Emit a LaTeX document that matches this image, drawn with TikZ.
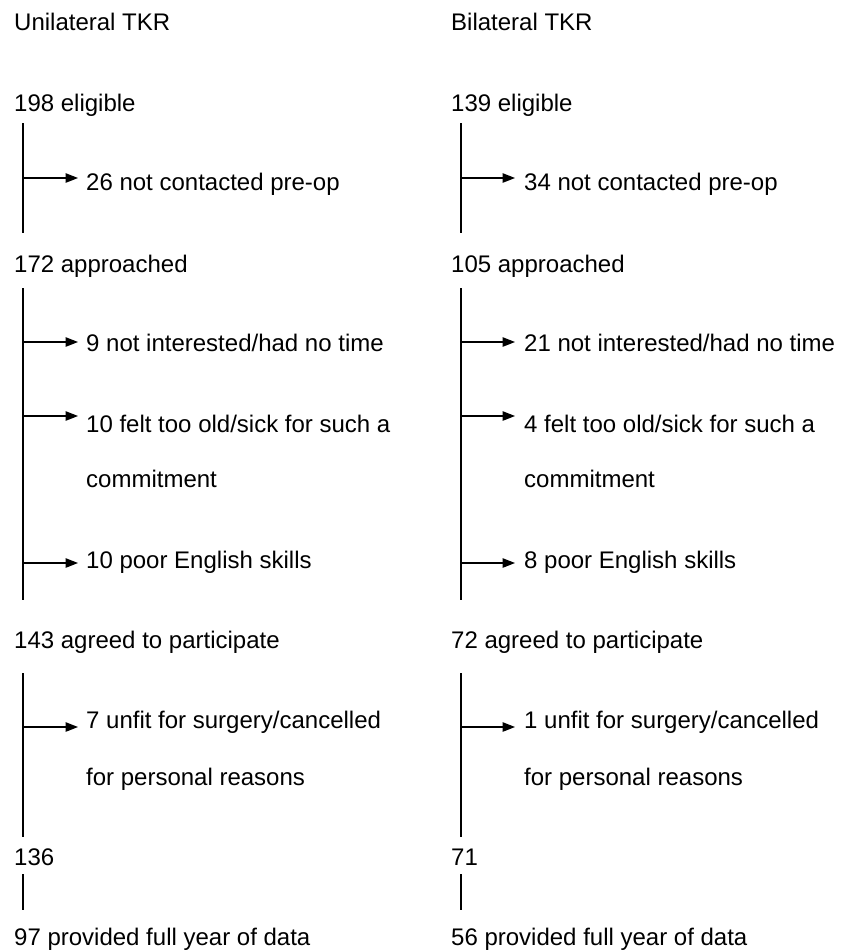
\documentclass[tikz,border=0pt]{standalone}
\usepackage{fontspec}
\setmainfont{Liberation Sans}
\usetikzlibrary{arrows.meta}
\tikzset{
  lbl/.style={anchor=base west,inner sep=0pt,font=\fontsize{24pt}{28pt}\selectfont},
  vline/.style={line width=1.3pt},
  exarrow/.style={line width=1.3pt,-{Triangle[length=12.5pt,width=9.5pt]}}
}
\begin{document}
\begin{tikzpicture}[x=1pt,y=-1pt]
\useasboundingbox (0,0) rectangle (842,951);
% ---------- left column ----------
\begin{scope}
\node[lbl] (Lh) at (14,30) {Unilateral TKR};
\node[lbl] (L1) at (14,111) {198 eligible};
\node[lbl] (Le1) at (86,190) {26 not contacted pre-op};
\node[lbl] (L2) at (14,272) {172 approached};
\node[lbl] (Le2) at (86,351) {9 not interested/had no time};
\node[lbl] (Le3) at (86,432) {10 felt too old/sick for such a};
\node[lbl] (Le3b) at (86,487) {commitment};
\node[lbl] (Le4) at (86,568) {10 poor English skills};
\node[lbl] (L3) at (14,648) {143 agreed to participate};
\node[lbl] (Le5) at (86,728) {7 unfit for surgery/cancelled};
\node[lbl] (Le5b) at (86,785) {for personal reasons};
\node[lbl] (L4) at (14,865) {136};
\node[lbl] (L5) at (14,945) {97 provided full year of data};
\coordinate (La1) at (23,123); \coordinate (Lb1) at (23,233);
\coordinate (La2) at (23,288); \coordinate (Lb2) at (23,600);
\coordinate (La3) at (23,673); \coordinate (Lb3) at (23,837);
\coordinate (La4) at (23,874); \coordinate (Lb4) at (23,910);
\draw[vline] (La1) -- (Lb1);
\draw[vline] (La2) -- (Lb2);
\draw[vline] (La3) -- (Lb3);
\draw[vline] (La4) -- (Lb4);
\coordinate (Ls1) at (23,178); \coordinate (Lt1) at (78,178);
\coordinate (Ls2) at (23,342); \coordinate (Lt2) at (78,342);
\coordinate (Ls3) at (23,416); \coordinate (Lt3) at (78,416);
\coordinate (Ls4) at (23,563); \coordinate (Lt4) at (78,563);
\coordinate (Ls5) at (23,727); \coordinate (Lt5) at (78,727);
\foreach \i in {1,...,5} {\draw[exarrow] (Ls\i) -- (Lt\i);}
\end{scope}
% ---------- right column ----------
\begin{scope}
\node[lbl] (Rh) at (451,30) {Bilateral TKR};
\node[lbl] (R1) at (451,111) {139 eligible};
\node[lbl] (Re1) at (524,190) {34 not contacted pre-op};
\node[lbl] (R2) at (451,272) {105 approached};
\node[lbl] (Re2) at (524,351) {21 not interested/had no time};
\node[lbl] (Re3) at (524,432) {4 felt too old/sick for such a};
\node[lbl] (Re3b) at (524,487) {commitment};
\node[lbl] (Re4) at (524,568) {8 poor English skills};
\node[lbl] (R3) at (451,648) {72 agreed to participate};
\node[lbl] (Re5) at (524,728) {1 unfit for surgery/cancelled};
\node[lbl] (Re5b) at (524,785) {for personal reasons};
\node[lbl] (R4) at (451,865) {71};
\node[lbl] (R5) at (451,945) {56 provided full year of data};
\coordinate (Ra1) at (461,123); \coordinate (Rb1) at (461,233);
\coordinate (Ra2) at (461,288); \coordinate (Rb2) at (461,600);
\coordinate (Ra3) at (461,673); \coordinate (Rb3) at (461,837);
\coordinate (Ra4) at (461,874); \coordinate (Rb4) at (461,910);
\draw[vline] (Ra1) -- (Rb1);
\draw[vline] (Ra2) -- (Rb2);
\draw[vline] (Ra3) -- (Rb3);
\draw[vline] (Ra4) -- (Rb4);
\coordinate (Rs1) at (461,178); \coordinate (Rt1) at (515,178);
\coordinate (Rs2) at (461,342); \coordinate (Rt2) at (515,342);
\coordinate (Rs3) at (461,416); \coordinate (Rt3) at (515,416);
\coordinate (Rs4) at (461,563); \coordinate (Rt4) at (515,563);
\coordinate (Rs5) at (461,727); \coordinate (Rt5) at (515,727);
\foreach \i in {1,...,5} {\draw[exarrow] (Rs\i) -- (Rt\i);}
\end{scope}
\end{tikzpicture}
\end{document}
